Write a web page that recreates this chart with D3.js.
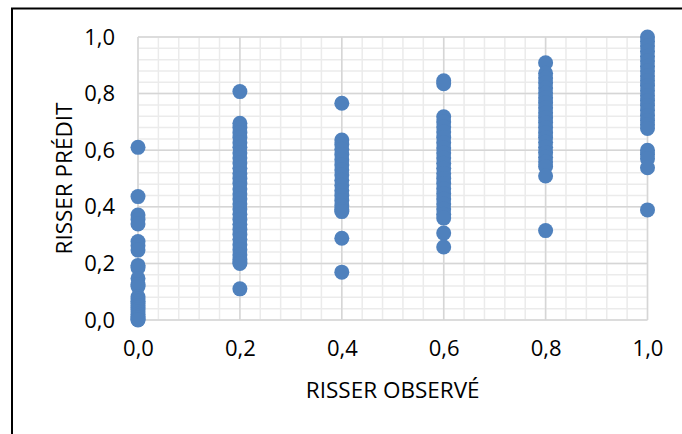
<!DOCTYPE html>
<html lang="fr">
<head>
  <meta charset="UTF-8">
  <title>Risser prédit vs observé</title>
  <style>
    html, body { margin: 0; padding: 0; background: #fff; }
    svg { display: block; }
    text { font-family: "Open Sans", "DejaVu Sans", sans-serif; fill: #000; }
    .tick text { font-size: 22px; }
    .axis-title { font-size: 22.5px; }
  </style>
</head>
<body>
  <svg class="chart"></svg>
  <script src="https://cdnjs.cloudflare.com/ajax/libs/d3/7.8.5/d3.min.js"></script>
  <script>
    // observed Risser grades (x) and the predicted values seen at each of them (y)
    const xObserved = [0, 0.2, 0.4, 0.6, 0.8, 1.0];
    const pred00 = [0.61, 0.436, 0.371, 0.355, 0.339, 0.277, 0.262, 0.247, 0.193, 0.185, 0.147, 0.125,
      0.118, 0.082, 0.074, 0.066, 0.058, 0.05, 0.043, 0.036, 0.028, 0.02, 0.013, 0.007, 0.002, 0.0];
    const pred02 = [0.807, 0.695, 0.68, 0.662, 0.645, 0.626, 0.61, 0.59, 0.572, 0.555, 0.536, 0.518,
      0.5, 0.482, 0.463, 0.445, 0.428, 0.41, 0.392, 0.374, 0.355, 0.338, 0.32, 0.302, 0.285, 0.266,
      0.248, 0.23, 0.214, 0.205, 0.2, 0.11];
    const pred04 = [0.766, 0.636, 0.62, 0.603, 0.585, 0.566, 0.548, 0.53, 0.512, 0.494, 0.476, 0.458,
      0.44, 0.422, 0.404, 0.39, 0.383, 0.289, 0.169];
    const pred06 = [0.845, 0.835, 0.718, 0.7, 0.682, 0.664, 0.645, 0.626, 0.608, 0.59, 0.572, 0.554,
      0.536, 0.518, 0.5, 0.482, 0.464, 0.446, 0.428, 0.41, 0.392, 0.374, 0.36, 0.307, 0.258];
    const pred08 = [0.909, 0.872, 0.855, 0.838, 0.82, 0.802, 0.785, 0.768, 0.75, 0.732, 0.715, 0.698,
      0.68, 0.662, 0.645, 0.628, 0.61, 0.592, 0.575, 0.558, 0.542, 0.509, 0.316];
    const pred10 = [1.0, 0.985, 0.968, 0.95, 0.932, 0.915, 0.897, 0.88, 0.862, 0.845, 0.828, 0.81,
      0.792, 0.775, 0.758, 0.74, 0.722, 0.705, 0.69, 0.677, 0.6, 0.585, 0.57, 0.538, 0.389];
    const xTicks = [0, 0.2, 0.4, 0.6, 0.8, 1.0];
    const yTicks = [0, 0.2, 0.4, 0.6, 0.8, 1.0];
    const xTitle = "RISSER OBSERVÉ";
    const yTitle = "RISSER PRÉDIT";

    const width = 682, height = 434;
    const plot = { left: 138, right: 647.5, top: 37, bottom: 320 };

    const svg = d3.select("svg.chart").attr("width", width).attr("height", height);

    // cadre noir autour du graphique
    svg.append("rect")
      .attr("x", 12).attr("y", 8.5)
      .attr("width", 700).attr("height", 500)
      .attr("fill", "none").attr("stroke", "#000").attr("stroke-width", 2);

    const x = d3.scaleLinear().domain([0, 1]).range([plot.left, plot.right]);
    const y = d3.scaleLinear().domain([0, 1]).range([plot.bottom, plot.top]);
    const fmt = d => d3.format(".1f")(d).replace(".", ",");

    // quadrillage secondaire
    const minor = d3.range(0, 26).map(i => i / 25);
    const grid = svg.append("g").attr("class", "grid");
    grid.selectAll("line.minor-x")
      .data(minor).enter().append("line")
      .attr("class", "minor-x")
      .attr("x1", d => x(d)).attr("x2", d => x(d))
      .attr("y1", plot.top).attr("y2", plot.bottom)
      .attr("stroke", "#ebebeb").attr("stroke-width", 1.5);
    grid.selectAll("line.minor-y")
      .data(minor).enter().append("line")
      .attr("class", "minor-y")
      .attr("y1", d => y(d)).attr("y2", d => y(d))
      .attr("x1", plot.left).attr("x2", plot.right)
      .attr("stroke", "#ebebeb").attr("stroke-width", 1.5);

    // quadrillage principal
    grid.selectAll("line.major-x")
      .data(xTicks).enter().append("line")
      .attr("class", "major-x")
      .attr("x1", d => x(d)).attr("x2", d => x(d))
      .attr("y1", plot.top).attr("y2", plot.bottom)
      .attr("stroke", "#d6d6d6").attr("stroke-width", 1.5);
    grid.selectAll("line.major-y")
      .data(yTicks).enter().append("line")
      .attr("class", "major-y")
      .attr("y1", d => y(d)).attr("y2", d => y(d))
      .attr("x1", plot.left).attr("x2", plot.right)
      .attr("stroke", "#d6d6d6").attr("stroke-width", 1.5);

    // axes (labels only)
    const xAxis = svg.append("g")
      .attr("transform", `translate(0,${plot.bottom})`)
      .call(d3.axisBottom(x).tickValues(xTicks).tickFormat(fmt).tickSize(0).tickPadding(20));
    xAxis.select(".domain").remove();
    xAxis.selectAll("text").attr("font-size", null).attr("font-family", null);

    const yAxis = svg.append("g")
      .attr("transform", `translate(${plot.left},0)`)
      .call(d3.axisLeft(y).tickValues(yTicks).tickFormat(fmt).tickSize(0).tickPadding(23));
    yAxis.select(".domain").remove();
    yAxis.selectAll("text").attr("font-size", null).attr("font-family", null);

    // points
    const series = [pred00, pred02, pred04, pred06, pred08, pred10];
    const points = [];
    series.forEach((vals, i) => vals.forEach(v => points.push({ obs: xObserved[i], pred: v })));

    svg.append("g").attr("class", "points")
      .selectAll("circle")
      .data(points).enter().append("circle")
      .attr("cx", d => x(d.obs))
      .attr("cy", d => y(d.pred))
      .attr("r", 7.5)
      .attr("fill", "#4f81bd");

    // titres des axes
    svg.append("text")
      .attr("class", "axis-title")
      .attr("x", (plot.left + plot.right) / 2)
      .attr("y", 398)
      .attr("text-anchor", "middle")
      .text(xTitle);

    svg.append("text")
      .attr("class", "axis-title")
      .attr("transform", `translate(72,${(plot.top + plot.bottom) / 2}) rotate(-90)`)
      .attr("text-anchor", "middle")
      .text(yTitle);
  </script>
</body>
</html>
